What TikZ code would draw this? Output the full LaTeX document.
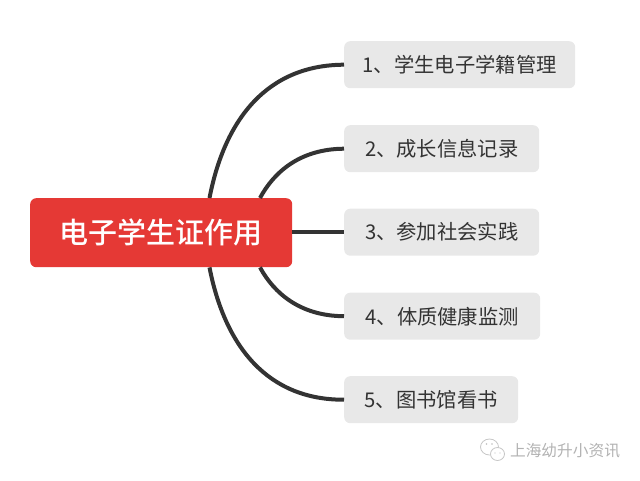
\documentclass[tikz,border=0pt]{standalone}
\usepackage{fontspec}
\setmainfont{Noto Sans CJK SC}
\newfontfamily\rootfont{Noto Sans CJK SC Medium}
\usetikzlibrary{calc}
\definecolor{rootred}{HTML}{E53935}
\definecolor{itemgray}{HTML}{E8E8E8}
\definecolor{linedark}{HTML}{333333}
\tikzset{
  rootbox/.style={fill=rootred,rounded corners=6pt,text=white,font=\fontsize{29}{31}\rootfont,inner sep=0pt,anchor=north west},
  itembox/.style={fill=itemgray,rounded corners=6pt,text=linedark,font=\fontsize{20.3}{24}\selectfont,inner sep=0pt,anchor=north west},
  link/.style={draw=linedark,line width=4pt},
  wmline/.style={black!22,line width=0.8pt,fill=white},
}
\begin{document}
\begin{tikzpicture}[x=1pt,y=-1pt]
\useasboundingbox (0,0) rectangle (640,480);
\node[rootbox,minimum width=262pt,minimum height=69pt] (root) at (30,198) {电子学生证作用};
\node[itembox,minimum width=231pt,minimum height=47pt] (a) at (344,41) {1、学生电子学籍管理};
\node[itembox,minimum width=195pt,minimum height=47pt] (b) at (344,125) {2、成长信息记录};
\node[itembox,minimum width=195pt,minimum height=47pt] (c) at (344,208.5) {3、参加社会实践};
\node[itembox,minimum width=196pt,minimum height=47pt] (d) at (344,292.5) {4、体质健康监测};
\node[itembox,minimum width=174pt,minimum height=47pt] (e) at (344,376) {5、图书馆看书};
\coordinate (ra) at ($(root.north west)+(179.5,0)$);
\coordinate (rb) at ($(root.north west)+(230,0)$);
\coordinate (re) at ($(root.south west)+(179.5,0)$);
\coordinate (rd) at ($(root.south west)+(230,0)$);
\draw[link] (ra) .. controls (225,118) and (268,65) .. (a.west);
\draw[link] (rb) .. controls (274,172) and (300,149) .. (b.west);
\draw[link] (root.east |- c.west) -- (c.west);
\draw[link] (rd) .. controls (274,293) and (300,316) .. (d.west);
\draw[link] (re) .. controls (225,347) and (268,400) .. (e.west);
\node[text=black!30,font=\fontsize{15.7}{17}\selectfont,inner sep=0pt] (wm) at (565,451) {上海幼升小资讯};
\draw[wmline] (489.5,447) ellipse (9 and 8);
\draw[wmline] (497.5,454) ellipse (7 and 6.5);
\fill[black!25] (486.5,444) circle (0.9) (492,444) circle (0.9) (495,453) circle (0.7) (500,453) circle (0.7);
\end{tikzpicture}
\end{document}
